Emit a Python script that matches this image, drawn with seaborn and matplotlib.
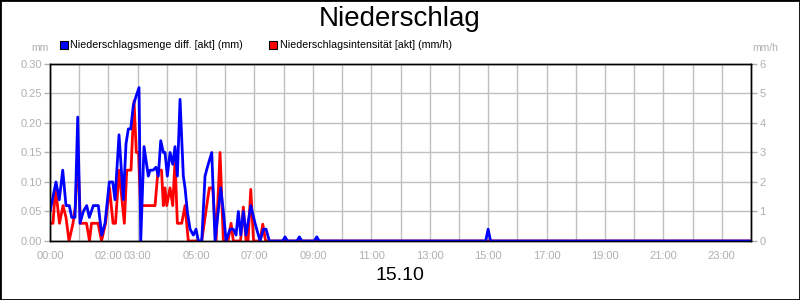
import matplotlib
matplotlib.use("Agg")
import matplotlib.pyplot as plt
import seaborn as sns
import pandas as pd
from matplotlib.patches import Rectangle

# ---- data (hours since 00:00) ----
menge_hours = [0.000, 0.205, 0.318, 0.435, 0.548, 0.661, 0.743, 0.856, 0.949, 1.027,
               1.140, 1.257, 1.346, 1.483, 1.654, 1.771, 1.884, 2.031, 2.147, 2.226,
               2.363, 2.510, 2.603, 2.682, 2.764, 2.853, 2.945, 3.048, 3.106, 3.219,
               3.366, 3.425, 3.527, 3.630, 3.709, 3.791, 3.880, 3.938, 4.017, 4.110,
               4.202, 4.281, 4.360, 4.452, 4.565, 4.623, 4.702, 4.795, 4.908, 5.000,
               5.079, 5.195, 5.308, 5.387, 5.538, 5.651, 5.846, 5.935, 6.027, 6.164,
               6.277, 6.370, 6.449, 6.531, 6.620, 6.712, 6.873, 7.021, 7.192, 7.305,
               7.397, 7.510, 7.966, 8.048, 8.130, 8.455, 8.538, 8.620, 9.050, 9.134,
               9.215, 14.917, 15.000, 15.083, 24.000]
menge_mm = [0.05, 0.10, 0.07, 0.12, 0.06, 0.06, 0.04, 0.04, 0.21, 0.03,
            0.05, 0.06, 0.04, 0.06, 0.06, 0.01, 0.03, 0.10, 0.10, 0.07,
            0.18, 0.07, 0.165, 0.19, 0.19, 0.23, 0.245, 0.26, 0.0, 0.16,
            0.11, 0.12, 0.12, 0.125, 0.11, 0.17, 0.15, 0.15, 0.11, 0.15,
            0.13, 0.16, 0.11, 0.24, 0.11, 0.09, 0.05, 0.02, 0.01, 0.02,
            0.0, 0.0, 0.11, 0.125, 0.15, 0.0, 0.09, 0.05, 0.0, 0.02,
            0.02, 0.01, 0.05, 0.01, 0.05, 0.01, 0.06, 0.03, 0.0, 0.02,
            0.02, 0.0, 0.0, 0.007, 0.0, 0.0, 0.007, 0.0, 0.0, 0.007,
            0.0, 0.0, 0.02, 0.0, 0.0]

intens_hours = [0.000, 0.103, 0.188, 0.325, 0.445, 0.548, 0.651, 0.788, 0.873, 0.949,
                1.045, 1.250, 1.353, 1.421, 1.644, 1.764, 1.901, 2.038, 2.158, 2.243,
                2.363, 2.545, 2.627, 2.774, 2.877, 2.955, 3.031, 3.099, 3.596, 3.699,
                3.818, 3.880, 3.938, 3.997, 4.110, 4.202, 4.281, 4.360, 4.510, 4.623,
                4.736, 5.195, 5.366, 5.455, 5.572, 5.685, 5.822, 5.935, 6.096, 6.199,
                6.277, 6.524, 6.620, 6.712, 6.781, 6.873, 6.969, 7.192, 7.284, 7.380,
                24.000]
intens_mmh = [0.6, 0.6, 1.8, 0.6, 1.2, 0.8, 0.0, 0.6, 1.2, 3.0,
              0.6, 0.6, 0.0, 0.6, 0.6, 0.0, 0.6, 1.8, 0.6, 0.6,
              2.4, 0.6, 2.4, 2.4, 4.75, 3.0, 3.0, 1.2, 1.2, 2.4,
              2.4, 1.2, 1.8, 1.2, 1.8, 1.2, 2.75, 0.6, 0.6, 1.2,
              0.0, 0.0, 1.2, 1.8, 1.8, 0.0, 3.0, 0.0, 0.0, 0.6,
              0.0, 0.0, 1.15, 0.0, 0.0, 1.75, 0.0, 0.0, 0.57, 0.0,
              0.0]

xtick_hours = [0, 2, 3, 5, 7, 9, 11, 13, 15, 17, 19, 21, 23]
xtick_labels = ["00:00", "02:00", "03:00", "05:00", "07:00", "09:00", "11:00",
                "13:00", "15:00", "17:00", "19:00", "21:00", "23:00"]
left_ticks = [0.00, 0.05, 0.10, 0.15, 0.20, 0.25, 0.30]
right_ticks = [0, 1, 2, 3, 4, 5, 6]

title = "Niederschlag"
date_label = "15.10"
label_menge = "Niederschlagsmenge diff. [akt] (mm)"
label_intens = "Niederschlagsintensität [akt] (mm/h)"

# ---- style ----
sns.set_style("white")
plt.rcParams["font.family"] = ["Liberation Sans", "DejaVu Sans"]
GRAY = "#b0b0b0"
GRID = "#c0c0c0"
BLUE = "#0000ff"
RED = "#ff0000"

fig = plt.figure(figsize=(8, 3), dpi=100)
ax_r = fig.add_axes([0.0625, 0.1967, 0.87625, 0.59])  # bottom axes (red, grid)
ax = ax_r.twinx()                                     # top axes (blue)
ax.set_zorder(ax_r.get_zorder() + 1)
ax.patch.set_visible(False)

df_i = pd.DataFrame({"h": intens_hours, "v": intens_mmh})
df_m = pd.DataFrame({"h": menge_hours, "v": menge_mm})
sns.lineplot(data=df_i, x="h", y="v", ax=ax_r, color=RED, linewidth=2,
             estimator=None, sort=False)
sns.lineplot(data=df_m, x="h", y="v", ax=ax, color=BLUE, linewidth=2,
             estimator=None, sort=False)

for a in (ax, ax_r):
    a.set_xlim(0, 24)
    a.set_xlabel("")
    a.set_ylabel("")
    for s in a.spines.values():
        s.set_color("black")
        s.set_linewidth(1)
        s.set_visible(True)

ax.yaxis.tick_left()
ax_r.yaxis.tick_right()
ax.set_ylim(0, 0.30)
ax_r.set_ylim(0, 6)
ax.set_yticks(left_ticks)
ax.set_yticklabels([f"{v:.2f}" for v in left_ticks])
ax_r.set_yticks(right_ticks)
ax_r.set_yticklabels([str(v) for v in right_ticks])

ax_r.set_xticks(range(0, 25))
lab = {h: l for h, l in zip(xtick_hours, xtick_labels)}
ax_r.set_xticklabels([lab.get(h, "") for h in range(0, 25)])
ax.tick_params(axis="x", bottom=False, labelbottom=False, top=False)

for a in (ax, ax_r):
    a.tick_params(axis="both", which="major", direction="out", length=4, width=1,
                  color=GRAY, labelcolor=GRAY, labelsize=8, pad=2)
ax_r.tick_params(axis="x", pad=3)

ax_r.grid(True, which="major", axis="both", color=GRID, linewidth=1)
ax.grid(False)
ax_r.set_axisbelow(True)

# texts
fig.text(0.5, 0.937, title, ha="center", va="center", fontsize=20, color="black")
fig.text(0.5, 0.083, date_label, ha="center", va="center", fontsize=14, color="black")
fig.text(0.061, 0.84, "mm", ha="right", va="center", fontsize=7.5, color=GRAY)
fig.text(0.94, 0.84, "mm/h", ha="left", va="center", fontsize=7.5, color=GRAY)

# legend (manual)
sq = 8 / 800
fig.add_artist(Rectangle((60 / 800, 1 - 49 / 300), sq, 8 / 300, transform=fig.transFigure,
                         facecolor=BLUE, edgecolor="black", linewidth=0.8))
fig.text(70 / 800, 1 - 45 / 300, label_menge, ha="left", va="center", fontsize=7.7, color="black")
fig.add_artist(Rectangle((269 / 800, 1 - 49 / 300), sq, 8 / 300, transform=fig.transFigure,
                         facecolor=RED, edgecolor="black", linewidth=0.8))
fig.text(280 / 800, 1 - 45 / 300, label_intens, ha="left", va="center", fontsize=7.7, color="black")

# figure border
fig.add_artist(Rectangle((0, 0), 1, 1, transform=fig.transFigure, fill=False,
                         edgecolor="black", linewidth=2))

fig.savefig("out.png", dpi=100, facecolor="white")
